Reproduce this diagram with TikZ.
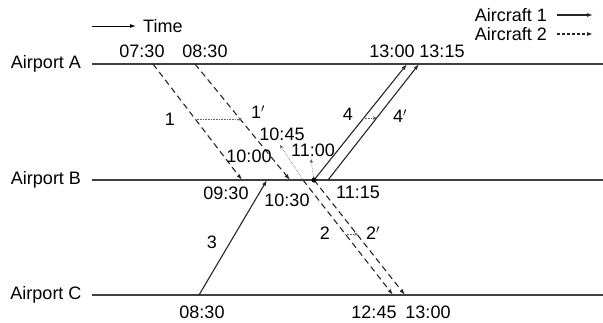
\documentclass[tikz,border=0pt]{standalone}
\usepackage{fontspec}
\setmainfont{Liberation Sans}
\usetikzlibrary{arrows.meta,positioning,calc}

\begin{document}
\begin{tikzpicture}[
    x=1pt,y=-1pt,
    >={Latex[length=6pt,width=4pt]},
    lbl/.style={font=\fontsize{18}{20}\selectfont,inner sep=1pt},
    airline/.style={line width=1.4pt,black!75},
    ac1/.style={->,line width=1.1pt,black!85},
    ac2/.style={->,line width=1.1pt,black!85,dash pattern=on 6pt off 4pt},
    delay/.style={->,densely dotted,line width=0.6pt,black!60,
                  >={Stealth[length=4pt,width=3.5pt]}},
]
\useasboundingbox (0,0) rectangle (603,322);

% ---- legend ----
\coordinate (tS) at (92,26);
\coordinate (tE) at (136,26);
\draw[->,line width=1pt] (tS) -- (tE);
\node[lbl,anchor=west] (time) at (142,26) {Time};

\node[lbl,anchor=east] (leg1) at (548,15) {Aircraft 1};
\node[lbl,anchor=east] (leg2) at (548,34) {Aircraft 2};
\coordinate (l1S) at (557,15); \coordinate (l1E) at (593,15);
\coordinate (l2S) at (557,34); \coordinate (l2E) at (593,34);
\draw[ac1] (l1S) -- (l1E);
\draw[ac2,dash pattern=on 3pt off 2pt] (l2S) -- (l2E);

% ---- airports ----
\node[lbl] (apA) at (46,64) {Airport A};
\node[lbl] (apB) at (46,180) {Airport B};
\node[lbl] (apC) at (46,295) {Airport C};
\coordinate (aR) at (603,64);
\coordinate (bR) at (603,180);
\coordinate (cR) at (603,295);
\draw[airline] (92,64) -- (aR);
\draw[airline] (92,180) -- (bR);
\draw[airline] (92,295) -- (cR);

% ---- flight end points ----
\coordinate (f1s) at (153,64);  \coordinate (f1e) at (242,180);
\coordinate (g1s) at (195,64);  \coordinate (g1e) at (290,180);
\coordinate (f2s) at (303,180); \coordinate (f2e) at (393,295);
\coordinate (g2s) at (314,180); \coordinate (g2e) at (405,295);
\coordinate (f3s) at (199,295); \coordinate (f3e) at (267,180);
\coordinate (f4s) at (314,180); \coordinate (f4e) at (407,64);
\coordinate (g4s) at (328,180); \coordinate (g4e) at (419,64);

% aircraft 2 (dashed)
\draw[ac2] (f1s) -- (f1e);
\draw[ac2] (g1s) -- (g1e);
\draw[ac2] (f2s) -- (f2e);
\draw[ac2] (g2s) -- (g2e);
% aircraft 1 (solid)
\draw[ac1] (f3s) -- (f3e);
\draw[ac1] (f4s) -- (f4e);
\draw[ac1] (g4s) -- (g4e);
\fill (g2s) circle (2.6pt);

% ---- delays ----
\coordinate (s1a) at (195,119); \coordinate (s1b) at (242,119);
\coordinate (s4a) at (363,118); \coordinate (s4b) at (377,118);
\coordinate (s2a) at (345,234); \coordinate (s2b) at (358,234);
\coordinate (d45) at (280,145);
\coordinate (d11) at (311,159);
\draw[delay] (s1a) -- (s1b);
\draw[delay] (s4a) -- (s4b);
\draw[delay] (s2a) -- (s2b);
\draw[delay] (f2s) -- (d45);
\draw[delay] (g2s) -- (d11);

% ---- times ----
\node[lbl] (t0730) at (142,51) {07:30};
\node[lbl] (t0830a) at (205,51) {08:30};
\node[lbl] (t1300a) at (392,51) {13:00};
\node[lbl] (t1315) at (442,51) {13:15};
\node[lbl] (t1045) at (282,134) {10:45};
\node[lbl] (t1000) at (249,156) {10:00};
\node[lbl] (t1100) at (313,150) {11:00};
\node[lbl] (t0930) at (226,193) {09:30};
\node[lbl] (t1030) at (287,200) {10:30};
\node[lbl] (t1115) at (358,192) {11:15};
\node[lbl] (t0830c) at (202,312) {08:30};
\node[lbl] (t1245) at (374,312) {12:45};
\node[lbl] (t1300c) at (428,312) {13:00};

% ---- flight numbers ----
\node[lbl] (n1) at (170,119) {1};
\node[lbl] (n1p) at (258,112) {1$'$};
\node[lbl] (n4) at (348,114) {4};
\node[lbl] (n4p) at (400,116) {4$'$};
\node[lbl] (n3) at (212,242) {3};
\node[lbl] (n2) at (325,233) {2};
\node[lbl] (n2p) at (373,233) {2$'$};

\end{tikzpicture}
\end{document}
